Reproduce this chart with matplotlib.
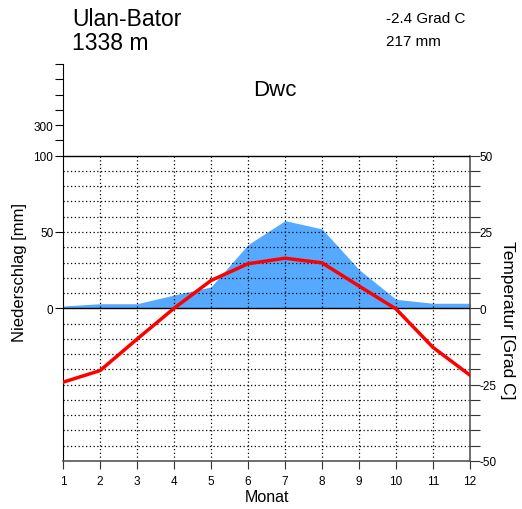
import matplotlib
matplotlib.use("Agg")
from matplotlib import pyplot as plt
import numpy as np

plt.rcParams['font.family'] = ['Liberation Sans', 'DejaVu Sans']

# Klimadaten Ulan-Bator
station = "Ulan-Bator"
hoehe = "1338 m"
mittel_temp = "-2.4 Grad C"
jahres_nied = "217 mm"
klima = "Dwc"
monate = [1, 2, 3, 4, 5, 6, 7, 8, 9, 10, 11, 12]
temperatur = [-24.2, -20.4, -10.1, 0.0, 9.1, 14.6, 16.4, 14.9, 7.3, -0.2, -12.8, -21.9]   # Grad C
niederschlag = [1.5, 3.0, 3.0, 8.7, 14.0, 41.7, 57.4, 52.0, 25.4, 5.9, 3.3, 3.3]          # mm

W, H = 522, 510
fig = plt.figure(figsize=(W / 100, H / 100), dpi=100)
ax = fig.add_axes([63 / W, (H - 462) / H, (470 - 63) / W, (462 - 65) / H])

# y-Achse in mm-Einheiten: 2 mm = 1 Grad C, ueber 100 mm Massstab 1:10
ax.set_xlim(1, 12)
ax.set_ylim(-100, 160)

nied = np.array(niederschlag)
temp_mm = np.array(temperatur) * 2
ax.fill_between(monate, 0, nied, color="#55aaff", linewidth=0, zorder=1)

# Gitter
for m in monate[1:-1]:
    ax.plot([m, m], [-100, 100], color="black", linestyle=(0, (1, 2)), linewidth=0.9, zorder=2)
for y in range(-90, 100, 10):
    if y != 0:
        ax.plot([1, 12], [y, y], color="black", linestyle=(0, (1, 2)), linewidth=0.9, zorder=2)
ax.plot([1, 12], [0, 0], color="black", linewidth=1.0, zorder=3)
ax.plot([1, 12], [100, 100], color="black", linewidth=1.0, zorder=3)

ax.plot(monate, temp_mm, color="#ff0000", linewidth=2.5, zorder=4)

# Achsen
ax.spines['top'].set_visible(False)
ax.spines['left'].set_bounds(-100, 160)
ax.spines['right'].set_bounds(-100, 100)
ax.spines['right'].set_color("#555555")
ax.spines['bottom'].set_color("#555555")
ax.spines['bottom'].set_linewidth(1.2)
ax.spines['right'].set_linewidth(1.2)

ax.set_xticks(monate)
ax.set_xticklabels([str(m) for m in monate], fontsize=8.5)
ax.tick_params(axis='x', direction='out', length=6, color="#333333", pad=4)

lticks = [0, 50, 100, 110, 120, 130, 140, 150, 160]
llabels = ["0", "50", "100", "", "300", "", "", "", ""]
ax.set_yticks(lticks)
ax.set_yticklabels(llabels, fontsize=8.5)
ax.tick_params(axis='y', direction='out', length=6, pad=1)

ax2 = ax.twinx()
ax2.set_ylim(-100, 160)
for s in ax2.spines.values():
    s.set_visible(False)
rticks = list(range(-100, 101, 10))
rlabels = [str(int(t / 2)) if t % 50 == 0 else "" for t in rticks]
ax2.set_yticks(rticks)
ax2.set_yticklabels(rlabels, fontsize=8.5)
ax2.tick_params(axis='y', direction='out', length=7, color="#333333", pad=0)

# Texte
fig.text(72 / W, 1 - 19 / H, station, fontsize=16.5, va='center', ha='left')
fig.text(72 / W, 1 - 44 / H, hoehe, fontsize=16.5, va='center', ha='left')
fig.text(386 / W, 1 - 19 / H, mittel_temp, fontsize=11, va='center', ha='left')
fig.text(386 / W, 1 - 42 / H, jahres_nied, fontsize=11, va='center', ha='left')
fig.text(275 / W, 1 - 91 / H, klima, fontsize=16, va='center', ha='center')
fig.text(20 / W, 1 - 272 / H, "Niederschlag [mm]", fontsize=12, rotation=90, va='center', ha='center')
fig.text(508 / W, 1 - 320 / H, "Temperatur [Grad C]", fontsize=12.5, rotation=270, va='center', ha='center')
fig.text(267 / W, 1 - 498 / H, "Monat", fontsize=11.5, va='center', ha='center')

fig.savefig("out.png", dpi=100)
